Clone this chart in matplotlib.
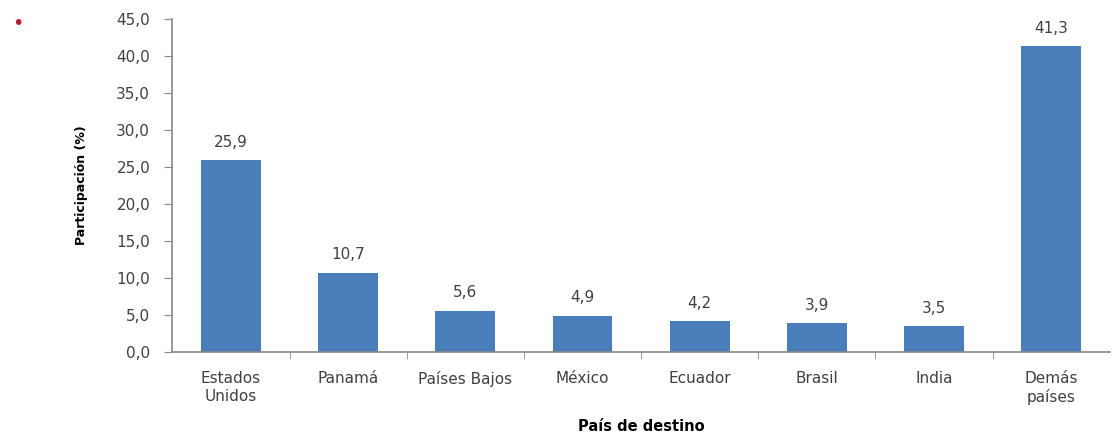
import matplotlib.pyplot as plt

paises = ["Estados\nUnidos", "Panamá", "Países Bajos", "México", "Ecuador",
          "Brasil", "India", "Demás\npaíses"]
participacion = [25.9, 10.7, 5.6, 4.9, 4.2, 3.9, 3.5, 41.3]
yticks = [0, 5, 10, 15, 20, 25, 30, 35, 40, 45]

fig = plt.figure(figsize=(11.12, 4.34), dpi=100)
ax = fig.add_axes([0.155, 0.189, 0.843, 0.767])

x = range(len(paises))
ax.bar(x, participacion, width=0.51, color="#4a7ebb")
for xi, v in zip(x, participacion):
    ax.text(xi, v + 1.4, f"{v:.1f}".replace(".", ","), ha="center", va="bottom",
            fontsize=11, color="#404040")

ax.set_xlim(-0.5, len(paises) - 0.5)
ax.set_ylim(0, 45)
ax.set_yticks(yticks)
ax.set_yticklabels([f"{t:.1f}".replace(".", ",") for t in yticks])
ax.set_xticks(list(x))
ax.set_xticklabels(paises)
ax.set_xticks([i + 0.5 for i in range(len(paises) - 1)], minor=True)
ax.tick_params(axis="y", direction="out", length=6, color="#888888",
               labelsize=11, labelcolor="#404040", pad=10)
ax.tick_params(axis="x", which="major", length=0, labelsize=11,
               labelcolor="#404040", pad=14)
ax.tick_params(axis="x", which="minor", direction="out", length=5,
               color="#888888")

for s in ["top", "right"]:
    ax.spines[s].set_visible(False)
for s in ["left", "bottom"]:
    ax.spines[s].set_color("#888888")
    ax.spines[s].set_linewidth(1.2)

ax.set_ylabel("Participación (%)", fontsize=9, fontweight="bold", labelpad=20)
ax.set_xlabel("País de destino", fontsize=10.5, fontweight="bold", labelpad=10)

fig.text(0.016, 0.947, "•", color="#b02030", fontsize=14, ha="center", va="center")

fig.savefig("out.png", dpi=100)
